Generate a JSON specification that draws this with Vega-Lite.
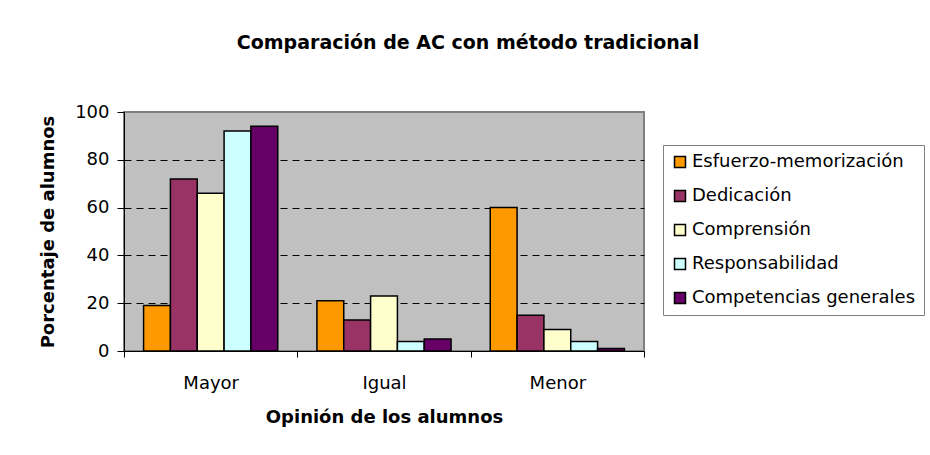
{
  "$schema": "https://vega.github.io/schema/vega-lite/v6.json",
  "width": 520,
  "height": 239,
  "autosize": {"type": "none"},
  "padding": {"left": 124, "top": 112, "right": 286, "bottom": 104},
  "background": "white",
  "title": {
    "text": "Comparación de AC con método tradicional",
    "font": "DejaVu Sans",
    "fontSize": 19,
    "fontWeight": "bold",
    "color": "black",
    "anchor": "middle",
    "frame": "group",
    "dx": 84,
    "offset": 50
  },
  "data": {
    "values": [
      {"opinion": "Mayor", "aspecto": "Esfuerzo-memorización", "pct": 19},
      {"opinion": "Mayor", "aspecto": "Dedicación", "pct": 72},
      {"opinion": "Mayor", "aspecto": "Comprensión", "pct": 66},
      {"opinion": "Mayor", "aspecto": "Responsabilidad", "pct": 92},
      {"opinion": "Mayor", "aspecto": "Competencias generales", "pct": 94},
      {"opinion": "Igual", "aspecto": "Esfuerzo-memorización", "pct": 21},
      {"opinion": "Igual", "aspecto": "Dedicación", "pct": 13},
      {"opinion": "Igual", "aspecto": "Comprensión", "pct": 23},
      {"opinion": "Igual", "aspecto": "Responsabilidad", "pct": 4},
      {"opinion": "Igual", "aspecto": "Competencias generales", "pct": 5},
      {"opinion": "Menor", "aspecto": "Esfuerzo-memorización", "pct": 60},
      {"opinion": "Menor", "aspecto": "Dedicación", "pct": 15},
      {"opinion": "Menor", "aspecto": "Comprensión", "pct": 9},
      {"opinion": "Menor", "aspecto": "Responsabilidad", "pct": 4},
      {"opinion": "Menor", "aspecto": "Competencias generales", "pct": 1}
    ]
  },
  "mark": {"type": "bar", "stroke": "black", "strokeWidth": 1.5},
  "encoding": {
    "x": {
      "field": "opinion",
      "type": "nominal",
      "sort": ["Mayor", "Igual", "Menor"],
      "scale": {"paddingInner": 0, "paddingOuter": 0},
      "axis": {
        "title": "Opinión de los alumnos",
        "labelAngle": 0,
        "tickBand": "extent",
        "tickSize": 6,
        "tickColor": "black",
        "domainColor": "black",
        "labelPadding": 17,
        "titlePadding": 16,
        "labelFont": "DejaVu Sans",
        "labelFontSize": 18,
        "labelColor": "black",
        "titleFont": "DejaVu Sans",
        "titleFontSize": 18,
        "titleFontWeight": "bold",
        "titleColor": "black"
      }
    },
    "xOffset": {
      "field": "aspecto",
      "type": "nominal",
      "sort": ["Esfuerzo-memorización", "Dedicación", "Comprensión", "Responsabilidad", "Competencias generales"],
      "scale": {"paddingInner": 0, "paddingOuter": 0.73}
    },
    "y": {
      "field": "pct",
      "type": "quantitative",
      "scale": {"domain": [0, 100], "nice": false},
      "axis": {
        "title": "Porcentaje de alumnos",
        "values": [0, 20, 40, 60, 80, 100],
        "tickSize": 7,
        "tickColor": "black",
        "domainColor": "black",
        "labelPadding": 8,
        "titlePadding": 17,
        "labelFont": "DejaVu Sans",
        "labelFontSize": 18,
        "labelColor": "black",
        "titleFont": "DejaVu Sans",
        "titleFontSize": 18,
        "titleFontWeight": "bold",
        "titleColor": "black",
        "grid": true,
        "gridColor": "black",
        "gridDash": [7, 5],
        "gridWidth": 1,
        "gridOpacity": {"condition": {"test": "datum.value === 0 || datum.value === 100", "value": 0}, "value": 1}
      }
    },
    "color": {
      "field": "aspecto",
      "type": "nominal",
      "scale": {
        "domain": ["Esfuerzo-memorización", "Dedicación", "Comprensión", "Responsabilidad", "Competencias generales"],
        "range": ["#FF9900", "#993366", "#FFFFCC", "#CCFFFF", "#660066"]
      },
      "legend": {
        "title": null,
        "orient": "none",
        "legendX": 539,
        "legendY": 33,
        "padding": 8,
        "fillColor": "white",
        "strokeColor": "#808080",
        "symbolType": "square",
        "symbolSize": 121,
        "symbolStrokeColor": "black",
        "symbolStrokeWidth": 1.5,
        "symbolOpacity": 1,
        "labelFont": "DejaVu Sans",
        "labelFontSize": 18,
        "labelColor": "black",
        "labelLimit": 300,
        "labelOffset": 3,
        "rowPadding": 16
      }
    }
  },
  "config": {
    "view": {"fill": "#C0C0C0", "stroke": "#808080", "strokeWidth": 2}
  }
}
